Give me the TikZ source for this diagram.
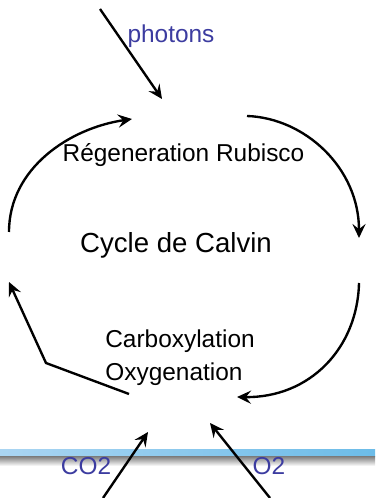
\documentclass[tikz,border=0pt]{standalone}
\usepackage{fontspec}
\setmainfont{Liberation Sans}
\usepackage{xcolor}
\usetikzlibrary{arrows.meta}
\definecolor{gazblue}{RGB}{60,60,160}
\definecolor{barleft}{RGB}{170,213,242}
\definecolor{barright}{RGB}{108,188,232}
\definecolor{shadowgrey}{RGB}{135,135,135}

\begin{document}
\begin{tikzpicture}[
    flux/.style={-{Stealth[length=8pt,width=7.5pt,inset=3pt]}, line width=1.35pt},
    petit/.style={font=\fontsize{13.9}{16}\selectfont, inner sep=0pt},
    gaz/.style={petit, text=gazblue}]
    \useasboundingbox (0,0) rectangle (7.5,9.96);
    % membrane
    \shade [left color=barleft, right color=barright] (0,0.82) rectangle (7.5,0.96);
    \shade [top color=shadowgrey, bottom color=white] (0,0.64) rectangle (7.5,0.82);
    % textes
    \node [gaz, anchor=base] (Ph) at (3.42,9.1) {photons};
    \node [petit, anchor=base] (Reg) at (3.67,6.72) {Régeneration Rubisco};
    \node [font=\fontsize{15.7}{18}\selectfont, inner sep=0pt, anchor=base] (Cal) at (3.52,4.9) {Cycle de Calvin};
    \node [petit, anchor=base west] (Carb) at (2.1,3.0) {Carboxylation};
    \node [petit, anchor=base west] (Oxy) at (2.1,2.34) {Oxygenation};
    \node [gaz, anchor=base] (CO) at (1.72,0.48) {CO2};
    \node [gaz, anchor=base] (Ox) at (5.38,0.48) {O2};
    % extremites des fleches
    \coordinate (P0) at (2.0,9.78);
    \coordinate (P1) at (3.24,7.98);
    \coordinate (L1) at (0.18,5.32);
    \coordinate (T1) at (2.64,7.58);
    \coordinate (T2) at (4.94,7.64);
    \coordinate (R1) at (7.18,5.2);
    \coordinate (R2) at (7.18,4.3);
    \coordinate (B1) at (4.74,2.02);
    \coordinate (B2) at (2.58,2.08);
    \coordinate (K) at (0.92,2.7);
    \coordinate (L2) at (0.18,4.32);
    \coordinate (C0) at (2.06,0);
    \coordinate (C1) at (2.96,1.32);
    \coordinate (O0) at (5.4,0);
    \coordinate (O1) at (4.2,1.5);
    % cycle
    \draw [flux] (L1) .. controls (0.18,6.6) and (1.4,7.4) .. (T1);
    \draw [flux] (T2) .. controls (6.1,7.6) and (7.18,6.6) .. (R1);
    \draw [flux] (R2) .. controls (7.15,3.0) and (6.2,2.0) .. (B1);
    \draw [flux] (B2) -- (K) -- (L2);
    % entrees
    \draw [flux] (P0) -- (P1);
    \draw [flux] (C0) -- (C1);
    \draw [flux] (O0) -- (O1);
\end{tikzpicture}
\end{document}
